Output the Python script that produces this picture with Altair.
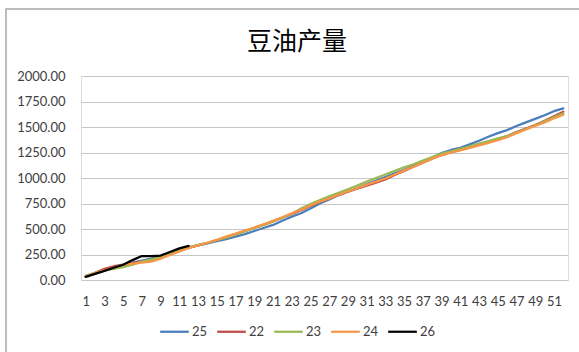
import altair as alt
import pandas as pd

weeks = list(range(1, 53))

s25 = [35, 65, 95, 120, 145, 170, 190, 210, 235, 260, 290, 320, 340, 360, 380, 400,
       425, 450, 480, 510, 540, 580, 620, 655, 700, 750, 790, 830, 865, 900, 940, 975,
       1010, 1045, 1080, 1120, 1160, 1200, 1245, 1275, 1295, 1330, 1365, 1405, 1440,
       1470, 1510, 1545, 1580, 1615, 1655, 1683]
s22 = [35, 70, 110, 135, 150, 165, 180, 200, 225, 255, 285, 315, 340, 365, 390, 420,
       450, 480, 510, 540, 575, 610, 645, 685, 725, 765, 800, 835, 865, 895, 925, 955,
       985, 1030, 1070, 1110, 1150, 1190, 1225, 1250, 1275, 1300, 1325, 1350, 1380,
       1410, 1450, 1485, 1520, 1560, 1605, 1650]
s23 = [40, 70, 95, 110, 125, 150, 180, 200, 225, 260, 290, 320, 345, 365, 390, 415,
       445, 475, 510, 540, 575, 610, 650, 700, 745, 785, 820, 855, 890, 925, 965, 1000,
       1035, 1070, 1105, 1135, 1170, 1205, 1240, 1262, 1285, 1310, 1338, 1362, 1388,
       1412, 1445, 1480, 1515, 1555, 1595, 1635]
s24 = [35, 65, 95, 120, 150, 160, 170, 180, 210, 245, 280, 315, 340, 365, 395, 425,
       455, 485, 515, 545, 580, 615, 655, 690, 730, 768, 800, 835, 868, 900, 935, 965,
       995, 1035, 1075, 1110, 1150, 1190, 1225, 1250, 1270, 1295, 1320, 1345, 1370,
       1400, 1440, 1475, 1510, 1545, 1585, 1620]
s26 = [30, 60, 90, 120, 150, 195, 235, 235, 240, 275, 310, 335]

series_names = ["25", "22", "23", "24", "26"]
series_vals = [s25, s22, s23, s24, s26]
colors = ["#4A7EBB", "#BE4B48", "#98B954", "#F79646", "#000000"]
widths = [2.25, 2.25, 2.25, 2.25, 3.2]
y_ticks = [0, 250, 500, 750, 1000, 1250, 1500, 1750, 2000]
x_ticks = list(range(1, 52, 2))
title_text = "豆油产量"

rows = []
for name, vals in zip(series_names, series_vals):
    for w, v in zip(weeks, vals):
        rows.append({"week": w, "value": v, "series": name})
df = pd.DataFrame(rows)

W, H = 487, 204

legend_kw = dict(orient="none", direction="horizontal", legendX=78, legendY=240,
                 symbolType="stroke", symbolSize=820, labelFont="Lato",
                 labelFontSize=13, labelColor="#404040", labelOffset=2,
                 columnPadding=4)

base = alt.Chart(df).mark_line(strokeJoin="round", strokeCap="round").encode(
    x=alt.X("week:O", title=None,
            scale=alt.Scale(domain=weeks),
            axis=alt.Axis(values=x_ticks, labelAngle=0, ticks=False, domain=False,
                          grid=False, labelPadding=15, labelFont="Lato",
                          labelFontSize=13, labelColor="#404040")),
    y=alt.Y("value:Q", title=None,
            scale=alt.Scale(domain=[0, 2000], nice=False),
            axis=alt.Axis(values=y_ticks, format=".2f", ticks=False, domain=False,
                          grid=True, gridColor="#C6C6C6", gridWidth=1,
                          labelPadding=16, labelFont="Lato", labelFontSize=13,
                          labelColor="#404040")),
    color=alt.Color("series:N", title=None,
                    scale=alt.Scale(domain=series_names, range=colors),
                    legend=alt.Legend(**legend_kw)),
    strokeWidth=alt.StrokeWidth("series:N", title=None,
                                scale=alt.Scale(domain=series_names, range=widths),
                                legend=alt.Legend(**legend_kw)),
)

layers = [base.transform_filter(alt.datum.series == n) for n in series_names]

border = alt.Chart(pd.DataFrame({"a": [0]})).mark_rect(
    fill=None, stroke="#A6A6A6", strokeWidth=1.5
).encode(x=alt.value(-75), x2=alt.value(W + 40), y=alt.value(-67), y2=alt.value(H + 100))

title = alt.Chart(pd.DataFrame({"t": [title_text]})).mark_text(
    font="Noto Sans CJK SC", fontSize=25, color="#000000", align="center",
    baseline="middle"
).encode(text="t:N", x=alt.value(216), y=alt.value(-34))

chart = alt.layer(border, title, *layers).properties(
    width=W, height=H,
    autosize=alt.AutoSizeParams(type="none"),
    padding={"left": 81, "top": 76, "right": 11, "bottom": 72},
).configure_view(stroke=None).configure(background="white")

chart.save("out.html", embed_options={"renderer": "svg", "actions": False})
